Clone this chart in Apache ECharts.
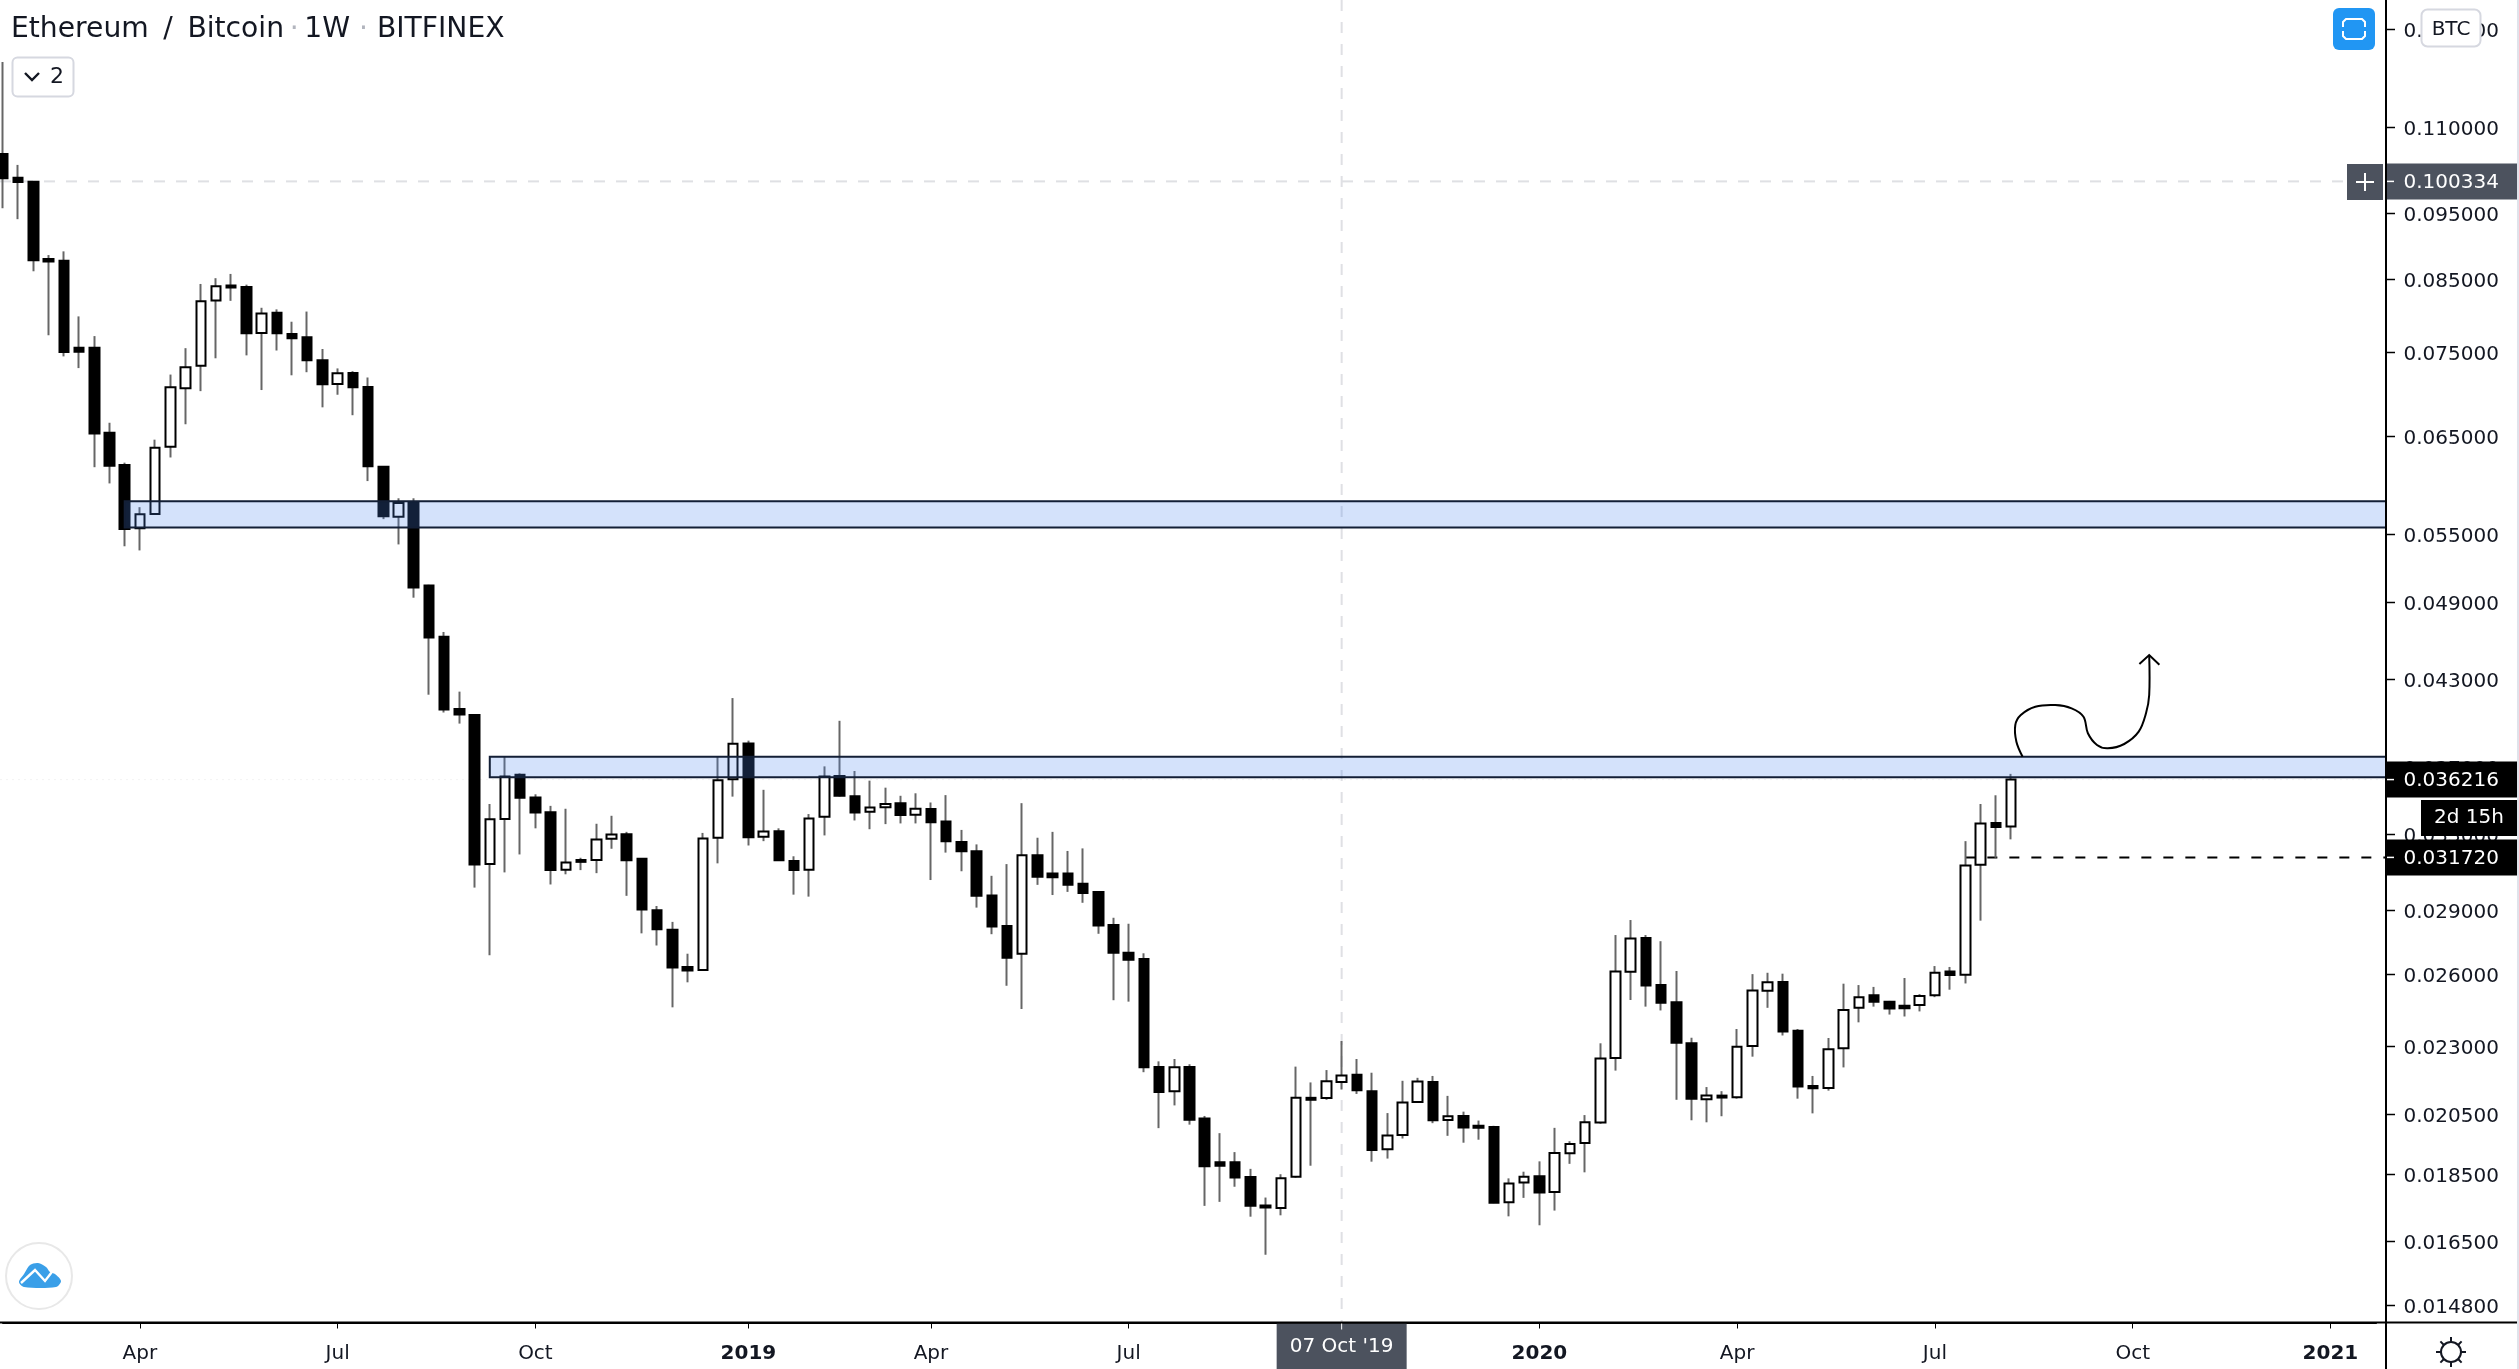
<!DOCTYPE html>
<html>
<head>
<meta charset="utf-8">
<title>Ethereum / Bitcoin 1W</title>
<script src="https://cdn.jsdelivr.net/npm/echarts@6/dist/echarts.min.js"></script>
<style>
  html, body { margin: 0; padding: 0; background: #fff; }
  #chart { width: 2519px; height: 1369px; }
</style>
</head>
<body>
<div id="chart"></div>
<script>
// weekly ETH/BTC candles, first bar is the week of 29 Jan 2018
const opens = [
  0.10511,0.10094,0.10029,0.08789,0.08765,0.07557,0.07557,0.06538,0.06190,0.05556,
  0.05694,0.06385,0.07055,0.07329,0.08192,0.08403,0.08380,0.07751,0.08023,0.07736,
  0.07695,0.07399,0.07106,0.07239,0.07070,0.06170,0.05668,0.05811,0.05041,0.04620,
  0.04085,0.04043,0.03136,0.03387,0.03651,0.03513,0.03426,0.03106,0.03158,0.03158,
  0.03274,0.03300,0.03165,0.02899,0.02804,0.02632,0.02618,0.03280,0.03623,0.03852,
  0.03285,0.03317,0.03152,0.03106,0.03400,0.03644,0.03520,0.03429,0.03455,0.03479,
  0.03411,0.03444,0.03372,0.03256,0.03205,0.02973,0.02822,0.02692,0.03184,0.03086,
  0.03086,0.03033,0.02991,0.02827,0.02696,0.02668,0.02220,0.02130,0.02220,0.02033,
  0.01887,0.01887,0.01840,0.01753,0.01746,0.01841,0.02106,0.02105,0.02164,0.02190,
  0.02130,0.01929,0.01977,0.02091,0.02164,0.02028,0.02042,0.02008,0.02004,0.01763,
  0.01823,0.01843,0.01794,0.01916,0.01950,0.02019,0.02254,0.02611,0.02765,0.02552,
  0.02478,0.02311,0.02101,0.02114,0.02108,0.02300,0.02527,0.02565,0.02361,0.02149,
  0.02142,0.02292,0.02455,0.02508,0.02480,0.02464,0.02467,0.02508,0.02612,0.02597,
  0.03133,0.03364,0.03343
];
const closes = [
  0.10087,0.10022,0.08771,0.08755,0.07503,0.07507,0.06530,0.06182,0.05549,0.05690,
  0.06375,0.07065,0.07310,0.08181,0.08392,0.08374,0.07745,0.08012,0.07745,0.07680,
  0.07399,0.07102,0.07235,0.07065,0.06177,0.05672,0.05800,0.05024,0.04613,0.04081,
  0.04047,0.03134,0.03385,0.03641,0.03511,0.03424,0.03104,0.03144,0.03148,0.03270,
  0.03298,0.03156,0.02903,0.02807,0.02630,0.02616,0.03276,0.03618,0.03849,0.03283,
  0.03315,0.03156,0.03104,0.03389,0.03641,0.03523,0.03424,0.03453,0.03474,0.03409,
  0.03446,0.03368,0.03260,0.03205,0.02971,0.02820,0.02673,0.03183,0.03069,0.03066,
  0.03027,0.02985,0.02824,0.02696,0.02665,0.02219,0.02127,0.02219,0.02029,0.01874,
  0.01876,0.01839,0.01752,0.01747,0.01836,0.02106,0.02099,0.02166,0.02188,0.02133,
  0.01927,0.01975,0.02089,0.02165,0.02027,0.02041,0.02002,0.02001,0.01761,0.01820,
  0.01841,0.01792,0.01917,0.01947,0.02020,0.02252,0.02612,0.02763,0.02550,0.02476,
  0.02313,0.02103,0.02114,0.02107,0.02297,0.02528,0.02564,0.02358,0.02147,0.02141,
  0.02288,0.02446,0.02500,0.02480,0.02452,0.02453,0.02505,0.02606,0.02596,0.03128,
  0.03360,0.03341,0.03622
];
const lows = [
  0.09585,0.09408,0.08609,0.07720,0.07447,0.07300,0.06166,0.05998,0.05389,0.05351,
  0.05690,0.06269,0.06634,0.07019,0.07423,0.08186,0.07460,0.07032,0.07522,0.07211,
  0.07249,0.06828,0.06976,0.06737,0.06022,0.05644,0.05406,0.04937,0.04185,0.04060,
  0.03984,0.03013,0.02685,0.03092,0.03188,0.03333,0.03029,0.03082,0.03104,0.03088,
  0.03219,0.02971,0.02787,0.02730,0.02457,0.02564,0.02615,0.03140,0.03518,0.03237,
  0.03261,0.03154,0.02977,0.02967,0.03293,0.03518,0.03378,0.03328,0.03357,0.03361,
  0.03361,0.03052,0.03198,0.03098,0.02912,0.02783,0.02549,0.02450,0.03027,0.02975,
  0.02991,0.02936,0.02785,0.02487,0.02481,0.02200,0.02000,0.02079,0.02012,0.01752,
  0.01764,0.01810,0.01720,0.01612,0.01724,0.01838,0.01876,0.02099,0.02136,0.02120,
  0.01889,0.01899,0.01965,0.02091,0.02017,0.01974,0.01951,0.01961,0.01760,0.01721,
  0.01776,0.01695,0.01738,0.01882,0.01855,0.02015,0.02206,0.02488,0.02460,0.02444,
  0.02099,0.02027,0.02020,0.02041,0.02103,0.02259,0.02455,0.02342,0.02103,0.02051,
  0.02132,0.02218,0.02395,0.02460,0.02427,0.02419,0.02440,0.02500,0.02532,0.02559,
  0.02848,0.03170,0.03271
];
const highs = [
  0.12296,0.10319,0.10040,0.08850,0.08906,0.07972,0.07709,0.06651,0.06214,0.05760,
  0.06462,0.07220,0.07552,0.08425,0.08508,0.08570,0.08415,0.08090,0.08068,0.07900,
  0.08038,0.07541,0.07296,0.07262,0.07184,0.06175,0.05848,0.05848,0.05047,0.04657,
  0.04207,0.04049,0.03474,0.03770,0.03660,0.03532,0.03463,0.03446,0.03170,0.03359,
  0.03405,0.03313,0.03168,0.02920,0.02842,0.02692,0.03307,0.03763,0.04161,0.03870,
  0.03559,0.03333,0.03178,0.03415,0.03704,0.04003,0.03675,0.03615,0.03572,0.03523,
  0.03538,0.03483,0.03527,0.03324,0.03243,0.03074,0.03136,0.03479,0.03280,0.03313,
  0.03207,0.03221,0.02995,0.02862,0.02833,0.02694,0.02241,0.02250,0.02230,0.02042,
  0.01983,0.01920,0.01866,0.01777,0.01849,0.02221,0.02162,0.02208,0.02320,0.02250,
  0.02198,0.02052,0.02168,0.02179,0.02186,0.02113,0.02057,0.02026,0.02008,0.01836,
  0.01857,0.01890,0.02001,0.01956,0.02045,0.02311,0.02779,0.02851,0.02779,0.02750,
  0.02614,0.02333,0.02145,0.02130,0.02368,0.02600,0.02606,0.02602,0.02368,0.02186,
  0.02332,0.02558,0.02552,0.02544,0.02484,0.02583,0.02513,0.02636,0.02632,0.03261,
  0.03474,0.03526,0.03657
];

const firstWeek = Date.UTC(2018, 0, 29);
const weekCount = 157; // bars plus the empty weeks on the right
const priceTicks = [0.13, 0.11, 0.095, 0.085, 0.075, 0.065, 0.055, 0.049, 0.043, 0.037,
  0.033, 0.029, 0.026, 0.023, 0.0205, 0.0185, 0.0165, 0.0148];
const priceMin = 0.014363;
const priceMax = 0.13666;

// drawn rectangles: first bar, lower and upper price
const zoneStart = [8, 32];
const zoneLow = [0.05564, 0.03636];
const zoneHigh = [0.05818, 0.03766];

const crossIndex = 88;
const crossPrice = 0.100334;
const lastPrice = 0.036216;
const prevClose = 0.03172;
const prevCloseStart = 129;

const monthNames = ['Jan', 'Feb', 'Mar', 'Apr', 'May', 'Jun', 'Jul', 'Aug', 'Sep', 'Oct', 'Nov', 'Dec'];
const categories = [];
for (let i = 0; i < weekCount; i++) {
  categories.push(new Date(firstWeek + i * 7 * 86400000).toISOString().slice(0, 10));
}
// the axis labels the first bar of each quarter
function isQuarterStart(index, value) {
  const d = new Date(value);
  return d.getUTCDate() <= 7 && d.getUTCMonth() % 3 === 0;
}

const FONT = '"DejaVu Sans"';
const INK = '#131722';
const BAR_STEP = 15.212;
const PLOT_LEFT = 3;
const AXIS_X = 2386;
const AXIS_Y = 1322.5;
const TAG_RIGHT = 2517;
const GREY_TAG = '#4c525e';

const whiskerData = opens.map((o, i) => [o, closes[i], lows[i], highs[i]]);
const bodyData = opens.map((o, i) => [o, closes[i], Math.min(o, closes[i]), Math.max(o, closes[i])]);
const zoneData = zoneStart.map((s, i) => [s, zoneLow[i], zoneHigh[i]]);

function renderZone(params, api) {
  const a = api.coord([api.value(0), api.value(2)]);
  const b = api.coord([api.value(0), api.value(1)]);
  return {
    type: 'rect',
    shape: { x: a[0], y: a[1], width: AXIS_X - a[0], height: b[1] - a[1] },
    style: { fill: 'rgba(76,134,240,0.24)', stroke: '#131f36', lineWidth: 2 }
  };
}

function renderLevels(params, api) {
  const y = api.coord([0, api.value(1)])[1];
  const x = api.coord([api.value(0), api.value(1)])[0];
  const kind = params.dataIndex;
  const looks = [
    { x1: 0, x2: 2347, stroke: '#dfe0e4', lineWidth: 2, lineDash: [11, 11] },
    { x1: 0, x2: AXIS_X, stroke: 'rgba(0,0,0,0.05)', lineWidth: 1, lineDash: [2, 4] },
    { x1: x, x2: AXIS_X, stroke: '#000', lineWidth: 2, lineDash: [10, 12] }
  ][kind];
  return {
    type: 'line',
    shape: { x1: looks.x1, y1: y, x2: looks.x2, y2: y },
    style: { stroke: looks.stroke, lineWidth: looks.lineWidth, lineDash: looks.lineDash }
  };
}

function renderCrossX(params, api) {
  const x = api.coord([api.value(0), priceMax])[0];
  return {
    type: 'line',
    shape: { x1: x, y1: 0, x2: x, y2: AXIS_Y },
    style: { stroke: '#dfe0e4', lineWidth: 2, lineDash: [11, 11] }
  };
}

// price scale ticks and labels, the labels sit a little under their tick
function renderPriceTick(params, api) {
  const price = api.value(0);
  const y = Math.round(api.coord([0, price])[1]) + 0.5;
  return {
    type: 'group',
    children: [
      { type: 'line', shape: { x1: AXIS_X, y1: y, x2: AXIS_X + 9, y2: y }, style: { stroke: '#000', lineWidth: 1.5 } },
      {
        type: 'text',
        style: {
          x: 2403.5, y: y + 2.5, text: price.toFixed(6), fill: INK,
          font: '20px ' + FONT, textVerticalAlign: 'middle'
        }
      }
    ]
  };
}

function renderPriceTag(params, api) {
  const price = api.value(0);
  const y = api.coord([0, price])[1];
  const fill = price === crossPrice ? GREY_TAG : '#000';
  return {
    type: 'group',
    children: [
      { type: 'rect', shape: { x: AXIS_X - 1, y: y - 18, width: TAG_RIGHT - AXIS_X + 1, height: 36 }, style: { fill: fill } },
      { type: 'line', shape: { x1: AXIS_X, y1: y, x2: AXIS_X + 8, y2: y }, style: { stroke: '#fff', lineWidth: 1.5 } },
      {
        type: 'text',
        style: {
          x: 2403.5, y: y + 1, text: price.toFixed(6), fill: '#fff',
          font: '20px ' + FONT, textVerticalAlign: 'middle'
        }
      }
    ]
  };
}

function renderDateTag(params, api) {
  const x = api.coord([api.value(0), priceMin])[0];
  return {
    type: 'group',
    children: [
      { type: 'rect', shape: { x: x - 65, y: AXIS_Y + 1, width: 130, height: 46 }, style: { fill: GREY_TAG } },
      { type: 'line', shape: { x1: x, y1: AXIS_Y, x2: x, y2: AXIS_Y + 7 }, style: { stroke: '#fff', lineWidth: 1 } },
      {
        type: 'text',
        style: {
          x: x, y: AXIS_Y + 24, text: "07 Oct '19", fill: '#fff', font: '20px ' + FONT,
          textAlign: 'center', textVerticalAlign: 'middle'
        }
      }
    ]
  };
}

// small helpers for the chart furniture
function stroke(points, color, width, z) {
  return { type: 'polyline', z: z || 101, shape: { points: points }, style: { fill: 'none', stroke: color, lineWidth: width } };
}
function gearRays(cx, cy) {
  const rays = [];
  for (let k = 0; k < 8; k++) {
    const c = Math.cos(k * Math.PI / 4);
    const s = Math.sin(k * Math.PI / 4);
    rays.push(stroke([[cx + 10 * c, cy + 10 * s], [cx + 15 * c, cy + 15 * s]], INK, 2));
  }
  return rays;
}

const plotRight = PLOT_LEFT + (weekCount - 1) * BAR_STEP;

const option = {
  animation: false,
  backgroundColor: '#fff',
  title: {
    left: 11, top: 16, padding: 0,
    text: 'Ethereum\u2009 /\u2009 Bitcoin\u2009{dot|·}\u20091W {dot|·} BITFINEX',
    textStyle: {
      fontFamily: FONT, fontSize: 28.2, fontWeight: 'normal', color: INK,
      rich: { dot: { color: '#b2b5be', fontFamily: FONT, fontSize: 28.2 } }
    }
  },
  grid: { left: PLOT_LEFT, top: 0, width: plotRight - PLOT_LEFT, height: AXIS_Y, containLabel: false },
  xAxis: {
    type: 'category',
    data: categories,
    boundaryGap: false,
    axisLine: { lineStyle: { color: '#000', width: 2 } },
    axisTick: { length: 6, interval: isQuarterStart, lineStyle: { color: '#000', width: 1 } },
    splitLine: { show: false },
    axisLabel: {
      interval: isQuarterStart,
      margin: 21,
      color: INK,
      fontFamily: FONT,
      fontSize: 20,
      formatter: function (value) {
        const d = new Date(value);
        if (d.getUTCMonth() === 0) return '{year|' + d.getUTCFullYear() + '}';
        return monthNames[d.getUTCMonth()];
      },
      rich: { year: { fontWeight: 'bold', fontFamily: FONT, fontSize: 20, color: INK } }
    }
  },
  yAxis: {
    type: 'log',
    position: 'right',
    offset: AXIS_X - plotRight,
    min: priceMin,
    max: priceMax,
    splitLine: { show: false },
    axisLine: { show: true, lineStyle: { color: '#000', width: 2 } },
    axisTick: { show: false },
    axisLabel: { show: false }
  },
  series: [
    {
      name: 'levels', type: 'custom', z: 1, silent: true,
      data: [[0, crossPrice], [0, lastPrice], [prevCloseStart, prevClose]],
      encode: { x: 0, y: 1 }, renderItem: renderLevels
    },
    {
      name: 'crosshair', type: 'custom', z: 1, silent: true,
      data: [[crossIndex]], encode: { x: 0 }, renderItem: renderCrossX
    },
    {
      name: 'price scale', type: 'custom', z: 1, silent: true,
      data: priceTicks.map(p => [p]), encode: { y: 0 }, renderItem: renderPriceTick
    },
    {
      name: 'wicks', type: 'candlestick', z: 2, silent: true, clip: false,
      barWidth: 1,
      data: whiskerData,
      itemStyle: { color: '#666', color0: '#666', borderColor: '#666', borderColor0: '#666', borderWidth: 2 }
    },
    {
      name: 'ETH/BTC', type: 'candlestick', z: 3, silent: true, clip: false,
      barWidth: 10,
      data: bodyData,
      itemStyle: { color: '#fff', color0: '#000', borderColor: '#000', borderColor0: '#000', borderWidth: 2 }
    },
    {
      name: 'zones', type: 'custom', z: 4, silent: true,
      data: zoneData, encode: { x: 0, y: [1, 2] }, renderItem: renderZone
    },
    {
      name: 'price tags', type: 'custom', z: 5, silent: true,
      data: [[lastPrice], [prevClose], [crossPrice]], encode: { y: 0 }, renderItem: renderPriceTag
    },
    {
      name: 'date tag', type: 'custom', z: 5, silent: true,
      data: [[crossIndex]], encode: { x: 0 }, renderItem: renderDateTag
    }
  ],
  graphic: [
    // axis lines running past the plot
    { type: 'line', z: 10, shape: { x1: 0, y1: AXIS_Y, x2: TAG_RIGHT, y2: AXIS_Y }, style: { stroke: '#000', lineWidth: 2 } },
    { type: 'line', z: 10, shape: { x1: AXIS_X, y1: 0, x2: AXIS_X, y2: 1369 }, style: { stroke: '#000', lineWidth: 2 } },
    { type: 'rect', z: 10, shape: { x: 2517, y: 0, width: 2, height: 1369 }, style: { fill: '#e0e3eb' } },
    // countdown under the last price
    { type: 'rect', z: 100, shape: { x: 2421, y: 800, width: 96, height: 36 }, style: { fill: '#000' } },
    { type: 'text', z: 101, style: { x: 2469, y: 818, text: '2d 15h', fill: '#fff', font: '20px ' + FONT, textAlign: 'center', textVerticalAlign: 'middle' } },
    // plus box next to the crosshair price
    { type: 'rect', z: 100, shape: { x: 2347, y: 164, width: 36, height: 36 }, style: { fill: GREY_TAG } },
    stroke([[2365, 173], [2365, 191]], '#fff', 2),
    stroke([[2356, 182], [2374, 182]], '#fff', 2),
    // top buttons
    { type: 'rect', z: 100, shape: { x: 2333, y: 8, width: 42, height: 42, r: 6 }, style: { fill: '#2196f3' } },
    stroke([[2343, 27], [2343, 22], [2346, 19], [2362, 19], [2365, 22], [2365, 27]], '#fff', 2),
    stroke([[2343, 31], [2343, 36], [2346, 39], [2362, 39], [2365, 36], [2365, 31]], '#fff', 2),
    { type: 'rect', z: 100, shape: { x: 2421.5, y: 9.5, width: 59, height: 37, r: 6 }, style: { fill: '#fff', stroke: '#d6d8e0', lineWidth: 2 } },
    { type: 'text', z: 101, style: { x: 2451, y: 30, text: 'BTC', fill: INK, font: '20px ' + FONT, textAlign: 'center', textVerticalAlign: 'middle' } },
    // collapsed indicators button
    { type: 'rect', z: 100, shape: { x: 12.5, y: 57.5, width: 61, height: 39, r: 5 }, style: { fill: '#fff', stroke: '#d6d8e0', lineWidth: 2 } },
    stroke([[25, 73], [32, 80], [39, 73]], INK, 2.4),
    { type: 'text', z: 101, style: { x: 57, y: 77, text: '2', fill: INK, font: '22px ' + FONT, textAlign: 'center', textVerticalAlign: 'middle' } },
    // logo
    { type: 'circle', z: 100, shape: { cx: 39, cy: 1276, r: 33 }, style: { fill: '#fff', stroke: '#e8e8e8', lineWidth: 2 } },
    {
      type: 'polygon', z: 101,
      shape: { smooth: 0.3, points: [[19, 1282], [24, 1274], [30, 1265], [38, 1263], [46, 1267], [50, 1272], [55, 1274], [61, 1281], [56, 1287], [24, 1287]] },
      style: { fill: '#3a9fe8' }
    },
    stroke([[21, 1283], [35, 1270], [45, 1281], [55, 1268]], '#fff', 2.4, 102),
    // settings gear
    { type: 'circle', z: 101, shape: { cx: 2451, cy: 1352, r: 10 }, style: { fill: 'none', stroke: INK, lineWidth: 2 } },
    ...gearRays(2451, 1352),
    // hand drawn path above the resistance zone
    {
      type: 'polyline', z: 60,
      shape: {
        smooth: 0.35,
        points: [[2022.6, 756.7], [2016.4, 741.7], [2015.3, 725], [2020.8, 715], [2035.3, 706.7], [2055.2, 705],
          [2071.6, 708.3], [2083.5, 716.7], [2087.9, 733.3], [2097, 745], [2107.8, 748.3], [2124.2, 744],
          [2138.7, 731.7], [2146, 713.3], [2149.2, 695], [2149.2, 655]]
      },
      style: { fill: 'none', stroke: '#000', lineWidth: 2 }
    },
    stroke([[2139.4, 664], [2149.2, 655], [2159.4, 664.7]], '#000', 2, 60)
  ]
};

const chart = echarts.init(document.getElementById('chart'));
chart.setOption(option);
</script>
</body>
</html>
